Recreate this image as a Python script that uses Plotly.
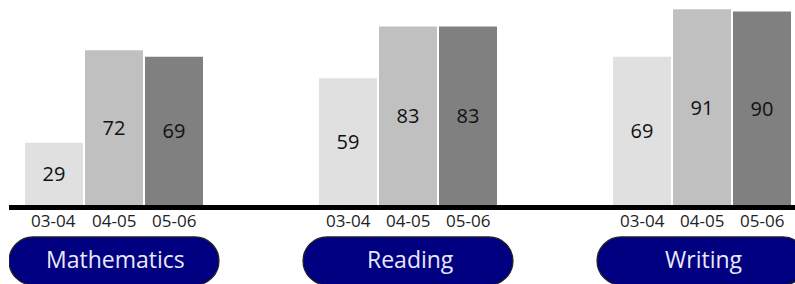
import plotly.graph_objects as go

subjects = ["Mathematics", "Reading", "Writing"]
years = ["03-04", "04-05", "05-06"]
values_0304 = [29, 59, 69]
values_0405 = [72, 83, 91]
values_0506 = [69, 83, 90]
series = [values_0304, values_0405, values_0506]
colors = ["#e0e0e0", "#c0c0c0", "#808080"]

FONT = "Open Sans"

fig = go.Figure()
for yr, vals, col in zip(years, series, colors):
    fig.add_trace(go.Bar(
        x=subjects, y=vals, name=yr,
        marker=dict(color=col, line=dict(width=0)),
        text=vals, texttemplate="%{text}",
        textposition="inside", insidetextanchor="middle",
        textangle=0,
        textfont=dict(family=FONT, size=20, color="#111111"),
        hoverinfo="skip",
    ))

annotations = []
shapes = []
slot = 60
for s in subjects:
    for k, yr in enumerate(years):
        annotations.append(dict(
            x=s, xref="x", y=-0.0756, yref="paper", yanchor="middle",
            xshift=(k - 1) * slot, text=yr, showarrow=False,
            font=dict(family=FONT, size=17, color="#222222"),
        ))
    # pill
    x0, x1, y0, y1, r = -105, 105, -24, 24, 24
    kk = 0.5523 * r
    path = (
        f"M {x0+r} {y0} L {x1-r} {y0} "
        f"C {x1-r+kk} {y0} {x1} {y0+r-kk} {x1} {y0+r} "
        f"L {x1} {y1-r} "
        f"C {x1} {y1-r+kk} {x1-r+kk} {y1} {x1-r} {y1} "
        f"L {x0+r} {y1} "
        f"C {x0+r-kk} {y1} {x0} {y1-r+kk} {x0} {y1-r} "
        f"L {x0} {y0+r} "
        f"C {x0} {y0+r-kk} {x0+r-kk} {y0} {x0+r} {y0} Z"
    )
    shapes.append(dict(
        type="path", path=path,
        xref="x", xsizemode="pixel", xanchor=s,
        yref="paper", ysizemode="pixel", yanchor=-0.273,
        fillcolor="#000080", line=dict(color="#222222", width=1.2),
        layer="above",
    ))
    annotations.append(dict(
        x=s, xref="x", y=-0.265, yref="paper", yanchor="middle",
        xshift=2, text=s, showarrow=False,
        font=dict(family=FONT, size=23, color="#e8e8f8"),
    ))

fig.update_layout(
    width=795, height=284,
    margin=dict(l=9, r=0, t=0, b=79),
    paper_bgcolor="white", plot_bgcolor="white",
    barmode="group", bargap=0.3878, bargroupgap=0.0333,
    showlegend=False,
    xaxis=dict(range=[-0.3571, 2.3163], showticklabels=False, ticks="",
               showline=True, linecolor="black", linewidth=5,
               showgrid=False, zeroline=False, fixedrange=True),
    yaxis=dict(range=[0, 95.35], visible=False, showgrid=False,
               zeroline=False, fixedrange=True),
    annotations=annotations, shapes=shapes,
)

fig.write_html(
    "out.html",
    config={"displayModeBar": False},
    post_script="document.body.style.margin='0px';document.body.style.padding='0px';document.body.style.overflow='hidden';",
)
